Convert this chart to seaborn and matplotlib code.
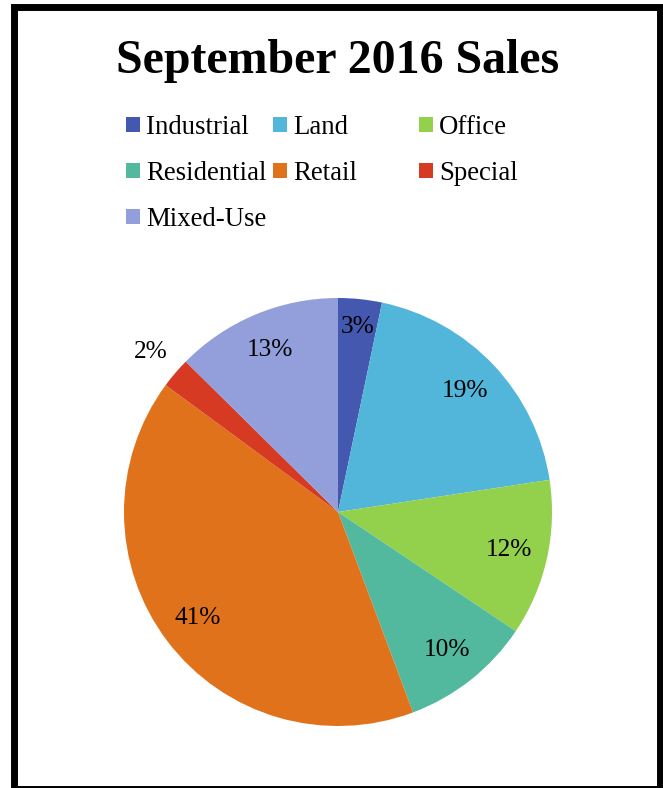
import matplotlib
matplotlib.use("Agg")
import matplotlib.pyplot as plt
from matplotlib.patches import Patch, Rectangle
import seaborn as sns
import numpy as np

# ---- data ----
categories = ["Industrial", "Land", "Office", "Residential", "Retail", "Special", "Mixed-Use"]
values = [3.3, 19.3, 11.8, 9.9, 40.8, 2.3, 12.6]
colors = ["#4458B0", "#52B5DA", "#93D04C", "#52B99E", "#E1721C", "#D63A23", "#929FDA"]
title = "September 2016 Sales"
legend_columns = [["Industrial", "Residential", "Mixed-Use"], ["Land", "Retail"], ["Office", "Special"]]

sns.set_theme(style="white")
plt.rcParams["font.family"] = ["Liberation Serif", "DejaVu Serif"]
plt.rcParams["text.color"] = "black"

W, H = 663, 788
fig = plt.figure(figsize=(W / 100, H / 100), dpi=100)
fig.patch.set_facecolor("white")

# pie axes: center (338,512) px from top, radius 214
cx, cy, R = 338, 512, 214
ax = fig.add_axes([(cx - R) / W, (H - cy - R) / H, 2 * R / W, 2 * R / H])
wedges, texts, autotexts = ax.pie(
    values, colors=colors, startangle=90, counterclock=False,
    autopct="%.0f%%", pctdistance=0.82,
    wedgeprops=dict(edgecolor="none", linewidth=0, antialiased=True),
    textprops=dict(fontsize=18.3, color="black"),
)
ax.set_xlim(-1, 1)
ax.set_ylim(-1, 1)
ax.set_aspect("equal")
ax.axis("off")

# adjust small-slice labels
for w, t, cat in zip(wedges, autotexts, categories):
    ang = np.deg2rad((w.theta1 + w.theta2) / 2)
    if cat == "Special":
        t.set_position((1.15 * np.cos(ang), 1.15 * np.sin(ang)))
    elif cat == "Industrial":
        t.set_position((0.87 * np.cos(ang), 0.87 * np.sin(ang)))

# title
fig.text(338 / W, (H - 73) / H, title, ha="center", va="baseline",
         fontsize=34.5, fontweight="bold", color="black")

# legends (one per column to mimic Excel layout)
col_x = [126, 273, 419]
cmap = dict(zip(categories, colors))
for x, labels in zip(col_x, legend_columns):
    handles = [Patch(facecolor=cmap[l], edgecolor="none") for l in labels]
    fig.legend(handles, labels, loc="upper left",
               bbox_to_anchor=(x / W, (H - 115) / H),
               frameon=False, fontsize=19.3, borderpad=0, borderaxespad=0,
               handlelength=0.52, handleheight=0.52, handletextpad=0.22,
               labelspacing=0.78, labelcolor="black")

# outer border
fig.patches.append(Rectangle((14 / W, -1 / H), (660 - 14) / W, (H - 7 + 1) / H,
                             transform=fig.transFigure, fill=False,
                             edgecolor="black", linewidth=5, zorder=10))

fig.savefig("out.png", dpi=100)
